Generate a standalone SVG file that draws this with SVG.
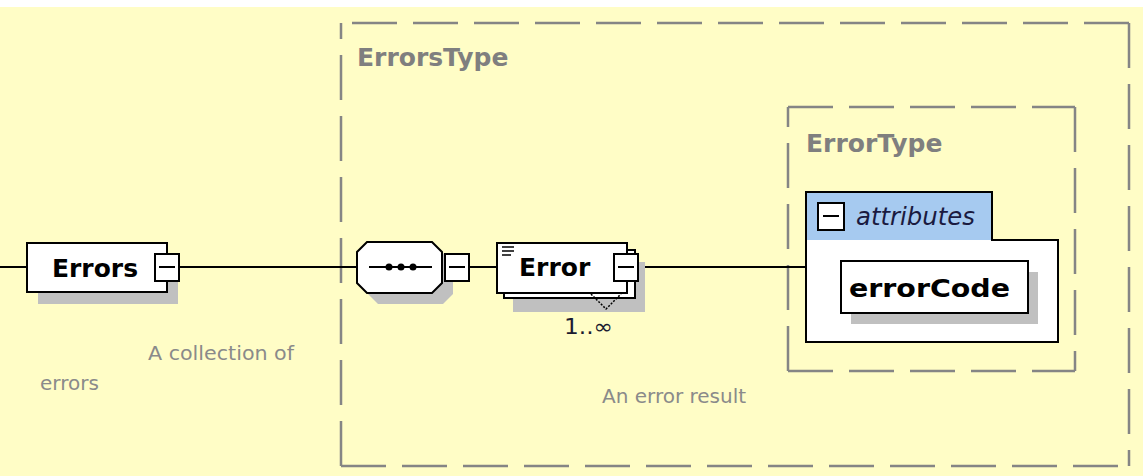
<svg xmlns="http://www.w3.org/2000/svg" width="1143" height="476" viewBox="0 0 1143 476">
<style>
.bg{fill:#FFFDC6}
.dash{stroke:#858585;stroke-width:2.5;fill:none;stroke-dasharray:45 16}
.box{fill:#fff;stroke:#000;stroke-width:2}
.shadow{fill:#C0C0C0}
.conn{stroke:#000;stroke-width:2;fill:none}
.btn{fill:#fff;stroke:#000;stroke-width:2}
.minus{stroke:#000;stroke-width:2}
.type{font-family:"DejaVu Sans",sans-serif;font-weight:bold;font-size:25px;fill:#7f7f7f}
.name{font-family:"DejaVu Sans",sans-serif;font-weight:bold;font-size:25px;fill:#000}
.desc{font-family:"DejaVu Sans",sans-serif;font-size:20px;fill:#8a8a8a}
</style>
<rect x="0" y="0" width="1143" height="476" fill="#fff"/>
<rect class="bg" x="0" y="7" width="1143" height="469"/>

<g id="ErrorsType">
<line class="dash" x1="1129" y1="23" x2="341" y2="23"/>
<line class="dash" x1="1129" y1="23" x2="1129" y2="466"/>
<line class="dash" x1="341" y1="466" x2="1129" y2="466"/>
<line class="dash" x1="341" y1="466" x2="341" y2="23"/>
<text class="type" x="357" y="66">ErrorsType</text>
<text class="desc" x="602" y="403">An error result</text>
</g>

<g id="ErrorType">
<line class="dash" x1="788" y1="107" x2="1075" y2="107"/>
<line class="dash" x1="1075" y1="107" x2="1075" y2="371"/>
<line class="dash" x1="788" y1="371" x2="1075" y2="371"/>
<line class="dash" x1="788" y1="371" x2="788" y2="107"/>
<text class="type" x="806" y="152">ErrorType</text>
</g>

<g id="connectors">
<line class="conn" x1="0" y1="267" x2="27" y2="267"/>
<line class="conn" x1="179" y1="267" x2="357" y2="267"/>
<line class="conn" x1="469" y1="267" x2="497" y2="267"/>
<line class="conn" x1="638" y1="267" x2="806" y2="267"/>
</g>

<g id="Errors">
<rect class="shadow" x="38" y="254" width="140" height="50"/>
<rect class="box" x="27" y="243" width="140" height="49"/>
<text class="name" x="52" y="277" textLength="86" lengthAdjust="spacingAndGlyphs">Errors</text>
<rect class="btn" x="155" y="254" width="24" height="27"/>
<line class="minus" x1="159" y1="267" x2="175" y2="267"/>
<text class="desc" x="148" y="360" textLength="146" lengthAdjust="spacingAndGlyphs">A collection of</text>
<text class="desc" x="40" y="390">errors</text>
</g>

<g id="sequence">
<polygon class="shadow" points="378,253 443,253 453,263 453,294 443,304 378,304 368,294 368,263"/>
<polygon class="box" points="367,242 432,242 442,252 442,283 432,293 367,293 357,283 357,252"/>
<line class="conn" x1="369" y1="267" x2="432" y2="267"/>
<circle cx="389" cy="267" r="3.5" fill="#000"/>
<circle cx="401" cy="267" r="3.5" fill="#000"/>
<circle cx="413" cy="267" r="3.5" fill="#000"/>
<rect class="btn" x="445" y="254" width="24" height="27"/>
<line class="minus" x1="449" y1="267" x2="465" y2="267"/>
</g>

<g id="Error">
<rect class="shadow" x="513" y="262" width="132" height="50"/>
<rect class="box" x="504" y="250" width="131" height="48"/>
<rect class="box" x="497" y="243" width="130" height="50"/>
<line x1="502" y1="247" x2="514" y2="247" stroke="#000" stroke-width="1.5"/>
<line x1="502" y1="251" x2="514" y2="251" stroke="#000" stroke-width="1.5"/>
<line x1="502" y1="255" x2="511" y2="255" stroke="#000" stroke-width="1.5"/>
<text class="name" x="519" y="276">Error</text>
<rect class="btn" x="614" y="254" width="24" height="27"/>
<line class="minus" x1="618" y1="267" x2="634" y2="267"/>
<polyline points="591,294 606,309 621,294" fill="none" stroke="#000" stroke-width="1.5" stroke-dasharray="2 1.5"/>
<text x="564" y="334" font-family="DejaVu Sans,sans-serif" font-size="21" fill="#1a1a30" textLength="49" lengthAdjust="spacingAndGlyphs">1..∞</text>
</g>

<g id="attributes">
<polygon class="box" points="806,192 992,192 992,240 1058,240 1058,342 806,342"/>
<rect x="807" y="193" width="184" height="47" fill="#A6CAF0"/>
<rect class="btn" x="818" y="203" width="26" height="27"/>
<line class="minus" x1="823" y1="216" x2="839" y2="216"/>
<text x="856" y="225" font-family="DejaVu Sans,sans-serif" font-style="italic" font-size="24" fill="#1a1a40" textLength="119" lengthAdjust="spacingAndGlyphs">attributes</text>
</g>

<g id="errorCode">
<rect class="shadow" x="851" y="272" width="187" height="52"/>
<rect class="box" x="841" y="261" width="187" height="52"/>
<text class="name" x="849" y="297" font-size="28" textLength="161" lengthAdjust="spacingAndGlyphs">errorCode</text>
</g>
</svg>
